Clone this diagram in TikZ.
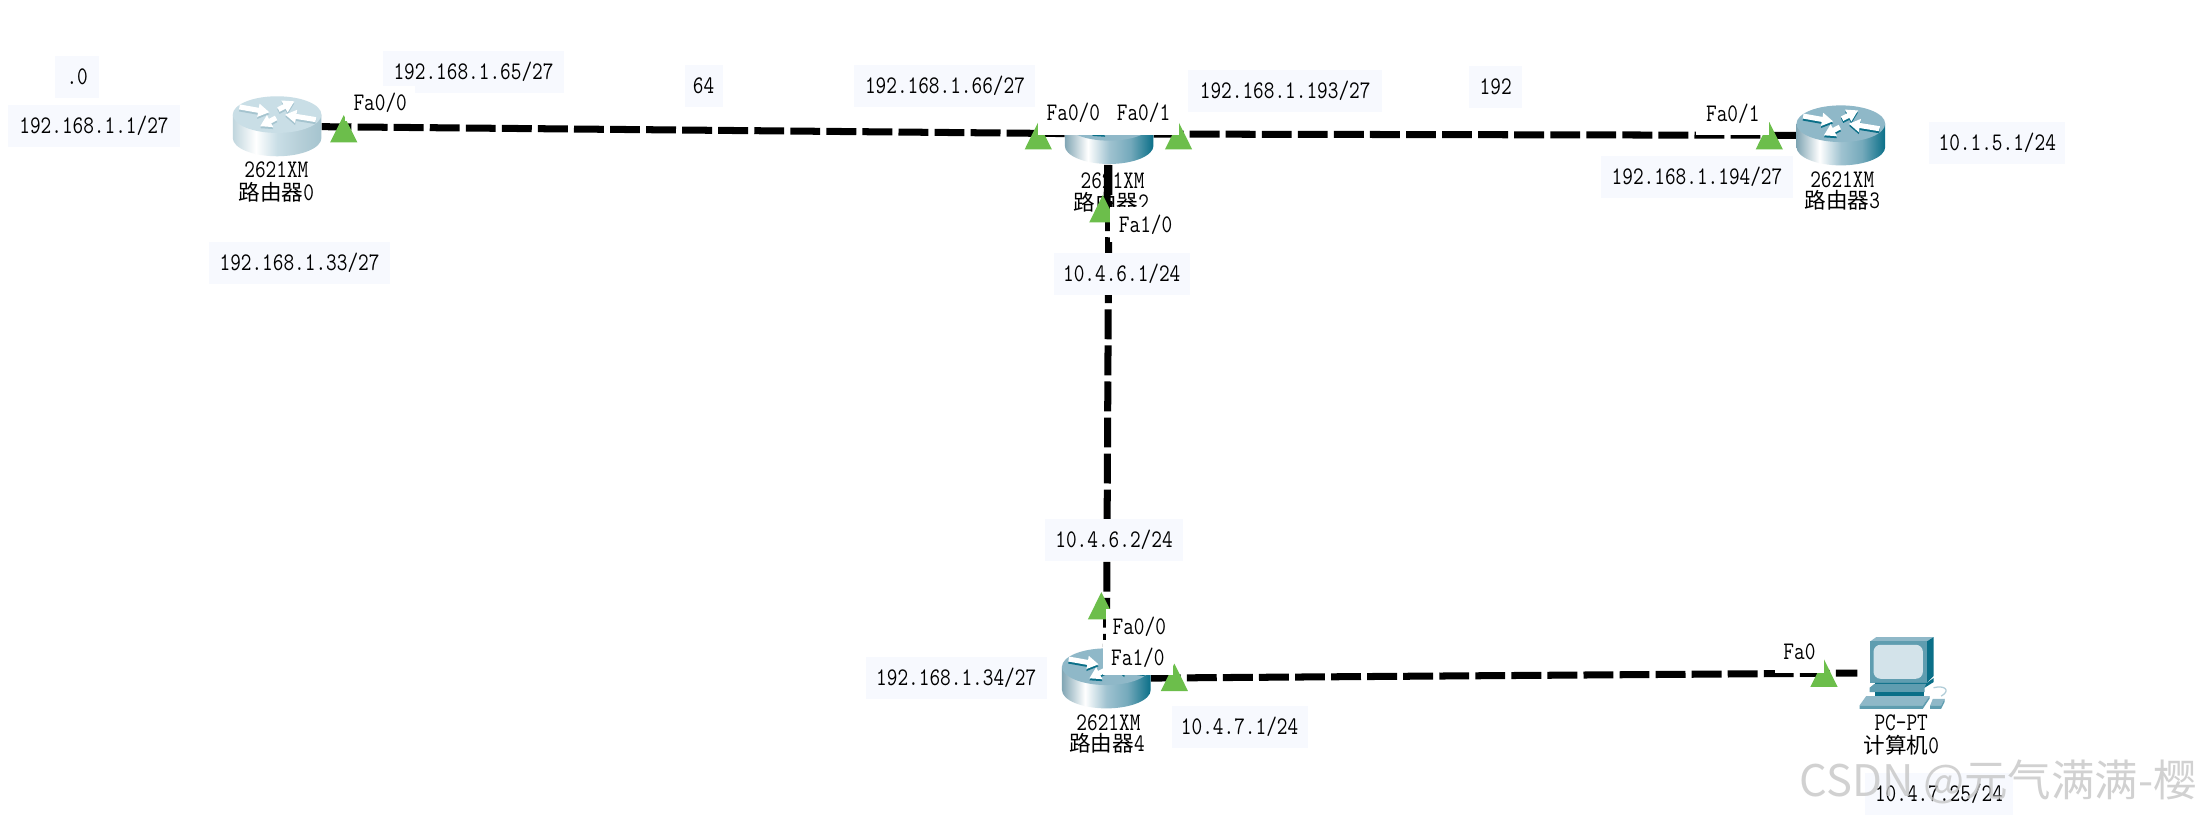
\documentclass[tikz,border=0pt]{standalone}
\usepackage{fontspec}
\usetikzlibrary{arrows.meta}
\newfontfamily\labfont[FakeStretch=0.82]{Latin Modern Mono}
\newfontfamily\cjkfont{Noto Sans CJK SC}
\definecolor{ipbg}{HTML}{F7F9FE}
\definecolor{linkgreen}{HTML}{6CBE4B}
\definecolor{topfull}{HTML}{8FB8C8}
\definecolor{shadefull}{HTML}{0A6F88}
\definecolor{toppale}{HTML}{C9DEE6}
\definecolor{shadepale}{HTML}{A5C4CF}
\definecolor{pcfront}{HTML}{5F9DB0}
\definecolor{pcscreen}{HTML}{D3E3EA}
\pgfdeclarehorizontalshading{bodyfull}{100bp}{color(0bp)=(topfull!90!black); color(25bp)=(topfull!90!black); color(38bp)=(white); color(50bp)=(topfull!85!white); color(62bp)=(topfull!80!shadefull); color(75bp)=(shadefull); color(100bp)=(shadefull)}
\pgfdeclarehorizontalshading{bodypale}{100bp}{color(0bp)=(shadepale!70!white); color(25bp)=(shadepale!70!white); color(38bp)=(white); color(50bp)=(toppale); color(62bp)=(shadepale!80!white); color(75bp)=(shadepale); color(100bp)=(shadepale)}
\tikzset{
  devbox/.style={minimum width=63pt,minimum height=44pt,inner sep=0pt},
  iplabel/.style={fill=ipbg,inner sep=0pt,minimum height=30pt,font=\labfont\fontsize{18}{18}\selectfont},
  portlabel/.style={fill=white,inner sep=0pt,minimum height=25pt,font=\labfont\fontsize{18}{18}\selectfont},
  devlabel/.style={inner sep=0pt,font=\labfont\fontsize{18}{18}\selectfont},
  cable/.style={line width=5pt,draw=black,dash pattern=on 21.3pt off 4.4pt},
  rarrow/.style={line width=3.6pt,-{Triangle[length=8pt,width=9pt]}}
}
\newcommand{\routericon}[4]{%
  \begin{scope}[shift={(#1)},x=.2376pt,y=-.2376pt]
    \shade[shading=#2] (-133,-35) -- (-133,35) arc[start angle=180,end angle=0,x radius=133,y radius=55] -- (133,-35) -- cycle;
    \fill[#3] (0,-35) ellipse[x radius=133,y radius=55];
    \foreach \ax/\ay/\bx/\by in {-113/-58/-23/-42,4/-50/52/-75,116/-20/24/-35,-3/-25/-51/0}{
      \draw[rarrow,#4] (\ax,\ay+6) -- (\bx,\by+6);
      \draw[rarrow,white] (\ax,\ay) -- (\bx,\by);
    }
  \end{scope}}
\newcommand{\pcicon}[1]{%
  \begin{scope}[shift={(#1)},x=.2376pt,y=-.2376pt,shift={(-482,-162)}]
    \fill[topfull] (387,68) -- (405,55) -- (577,55) -- (557,68) -- cycle;
    \fill[shadefull] (557,68) -- (577,55) -- (577,172) -- (557,192) -- cycle;
    \fill[pcfront] (387,68) -- (557,68) -- (557,192) -- (387,192) -- cycle;
    \fill[pcscreen,rounded corners=5pt] (397,78) rectangle (545,180);
    \fill[shadefull] (402,192) -- (557,192) -- (577,178) -- (577,190) -- (550,207) -- (402,207) -- cycle;
    \fill[pcfront] (385,207) -- (400,195) -- (555,195) -- (550,207) -- (550,220) -- (385,220) -- cycle;
    \fill[shadefull] (402,220) -- (548,220) -- (548,232) -- (402,232) -- cycle;
    \fill[topfull] (375,232) -- (565,232) -- (545,260) -- (355,260) -- cycle;
    \fill[pcfront] (355,260) -- (545,260) -- (565,232) -- (565,240) -- (545,270) -- (355,270) -- cycle;
    \fill[topfull] (575,240) -- (610,240) -- (600,260) -- (567,260) -- cycle;
    \fill[pcfront] (567,260) -- (600,260) -- (610,240) -- (610,250) -- (600,270) -- (567,270) -- cycle;
    \draw[topfull!70!white,line width=.9pt] (577,207) .. controls (610,198) and (630,215) .. (600,232);
  \end{scope}}
\newcommand{\linkmark}[2]{\fill[linkgreen] (#1,#2) -- (#1+9.7,#2+19.5) -- (#1-9.7,#2+19.5) -- cycle;}
\begin{document}
\begin{tikzpicture}[x=1pt,y=-1pt]
\useasboundingbox (0,0) rectangle (1568,585.2);
\fill[white] (0,0) rectangle (1568,585.2);
% device anchors
\node[devbox] (r0) at (197.5,90) {};
\node[devbox] (r2) at (790.5,95.5) {};
\node[devbox] (r3) at (1312,96.5) {};
\node[devbox] (r4) at (788.5,483.5) {};
\node[devbox] (pc) at (1355.5,479.5) {};
% cables
\draw[cable] (r0) -- (r2);
\draw[cable] (r2) -- (r3);
\draw[cable] (r2) -- (r4);
\draw[cable] (r4) -- (pc);
% icons
\routericon{r0}{bodypale}{toppale}{shadepale}
\routericon{r2}{bodyfull}{topfull}{shadefull}
\routericon{r3}{bodyfull}{topfull}{shadefull}
\routericon{r4}{bodyfull}{topfull}{shadefull}
\pcicon{pc}
% device captions
\node[devlabel] (r0a) at (197,121) {2621XM};
\node[devlabel] (r0b) at (197,137) {{\cjkfont\fontsize{15.4}{15.4}\selectfont 路由器}0};
\node[devlabel] (r3a) at (1313,128) {2621XM};
\node[devlabel] (r3b) at (1313,143) {{\cjkfont\fontsize{15.4}{15.4}\selectfont 路由器}3};
\node[devlabel] (r2a) at (793,129) {2621XM};
\node[devlabel] (r2b) at (792,144) {{\cjkfont\fontsize{15.4}{15.4}\selectfont 路由器}2};
\node[devlabel] (r4a) at (790,515) {2621XM};
\node[devlabel] (r4b) at (789,530) {{\cjkfont\fontsize{15.4}{15.4}\selectfont 路由器}4};
\node[devlabel] (pca) at (1355,515) {PC-PT};
\node[devlabel] (pcb) at (1355,531) {{\cjkfont\fontsize{15.4}{15.4}\selectfont 计算机}0};
% cable over caption of router 2
\draw[line width=5pt] (789.5,117.5) -- (789,146);
% port marks
\linkmark{245}{82}
\linkmark{740}{87}
\linkmark{840}{87}
\linkmark{1261}{87}
\linkmark{786}{139}
\linkmark{785}{422}
\linkmark{837}{473}
\linkmark{1300}{470}
% address labels
\node[iplabel,minimum width=31pt] (n0) at (55,55) {.0};
\node[iplabel,minimum width=122pt] (n1) at (67,90) {192.168.1.1/27};
\node[iplabel,minimum width=129pt] (n2) at (213.5,187.5) {192.168.1.33/27};
\node[iplabel,minimum width=129pt] (n3) at (337.5,51) {192.168.1.65/27};
\node[iplabel,minimum width=27pt] (n4) at (501.5,61) {64};
\node[iplabel,minimum width=129pt] (n5) at (673.5,61) {192.168.1.66/27};
\node[iplabel,minimum width=138pt] (n6) at (916,65) {192.168.1.193/27};
\node[iplabel,minimum width=38pt] (n7) at (1066,62) {192};
\node[iplabel,minimum width=137pt] (n8) at (1209.5,126) {192.168.1.194/27};
\node[iplabel,minimum width=97pt] (n9) at (1423.5,102) {10.1.5.1/24};
\node[iplabel,minimum width=97pt] (n10) at (799.5,195) {10.4.6.1/24};
\node[iplabel,minimum width=98pt] (n11) at (794,385) {10.4.6.2/24};
\node[iplabel,minimum width=129pt] (n12) at (681.5,483) {192.168.1.34/27};
\node[iplabel,minimum width=97pt] (n13) at (883.5,518) {10.4.7.1/24};
\node[iplabel,minimum width=106pt] (n14) at (1382,566) {10.4.7.25/24};
% port labels
\node[portlabel,minimum width=50pt] (p0) at (271,73.5) {Fa0/0};
\node[portlabel,minimum width=50pt,minimum height=31pt] (p1) at (765,80.5) {Fa0/0};
\node[portlabel,minimum width=50pt,minimum height=31pt] (p2) at (815,80.5) {Fa0/1};
\node[portlabel,minimum width=52pt,minimum height=30pt] (p3) at (1235,81) {Fa0/1};
\node[portlabel,minimum width=51pt] (p4) at (816.5,160) {Fa1/0};
\node[portlabel,minimum width=48pt] (p5) at (812,446.5) {Fa0/0};
\node[portlabel,minimum width=50pt] (p6) at (811,468.5) {Fa1/0};
\node[portlabel,minimum width=35pt,minimum height=31pt] (p7) at (1282.5,464.5) {Fa0};
% watermark
\node[inner sep=0pt,anchor=east,text=gray!45,opacity=.8,font=\cjkfont\fontsize{31}{31}\selectfont] (wm) at (1566,557) {CSDN @元气满满-樱};
\end{tikzpicture}
\end{document}
